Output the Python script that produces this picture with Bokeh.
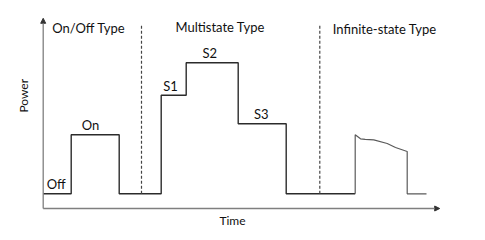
from bokeh.plotting import figure
from bokeh.models import Range1d, Arrow, NormalHead
from bokeh.core.properties import value
from bokeh.embed import file_html
from bokeh.resources import INLINE

# Step profile (time, power); off level = 0
step_time = [0, 28, 28, 76, 76, 118, 118, 143, 143, 195, 195, 243, 243, 312]
step_power = [0, 0, 59, 59, 0, 0, 98.6, 98.6, 131, 131, 70, 70, 0, 0]

# Infinite-state (continuously varying) segment
inf_time = [312, 312, 317.3, 322, 330.6, 344, 352.3, 364, 364, 383.3]
inf_power = [0, 59, 55, 54.5, 54, 50.3, 46.3, 42.3, 0, 0]

# Region separators (time)
sep_time = [98.3, 276.6]
sep_top = 168

# Region titles
region_titles = ["On/Off Type", "Multistate Type", "Infinite-state Type"]
region_title_x = [9, 132.3, 289.6]

# State labels
state_labels = ["Off", "On", "S1", "S2", "S3"]
state_time = [13, 47.3, 127.3, 166.6, 218]
state_power = [0, 59, 98.6, 131, 70]

FONT = "Lato"
p = figure(width=477, height=232, output_backend="svg", toolbar_location=None,
           x_range=Range1d(-42.7, 434.3), y_range=Range1d(-38.7, 193.3),
           min_border=0)
p.axis.visible = False
p.grid.visible = False
p.outline_line_color = None
p.background_fill_color = "white"

# axes with arrows
axis_y = -14.7
p.add_layout(Arrow(x_start=0, y_start=axis_y, x_end=0, y_end=175.5,
                   line_color="#7f7f7f", line_width=1.3,
                   end=NormalHead(size=5, fill_color="#333333", line_color="#333333")))
p.add_layout(Arrow(x_start=0, y_start=axis_y, x_end=396.5, y_end=axis_y,
                   line_color="#7f7f7f", line_width=1.3,
                   end=NormalHead(size=5, fill_color="#333333", line_color="#333333")))

p.line(step_time, step_power, line_color="#2b2b2b", line_width=1.4)
p.line(inf_time, inf_power, line_color="#5a5a5a", line_width=1.2)

for t in sep_time:
    p.line([t, t], [0, sep_top], line_color="#444444", line_width=1.2, line_dash="3 2")

p.text(region_title_x, [165.6, 167, 164.6], text=region_titles,
       text_font=value(FONT), text_font_size="13px", text_color="#111111",
       text_baseline="middle", text_align="left")

p.text(state_time, [v + 9.5 for v in state_power], text=state_labels,
       text_font=value(FONT), text_font_size="13px", text_color="#111111",
       text_baseline="middle", text_align="center")

p.text([-19.4], [98], text=["Power"], angle=1.5708,
       text_font=value(FONT), text_font_size="12px", text_color="#111111",
       text_baseline="middle", text_align="center")
p.text([189.3], [-26.7], text=["Time"],
       text_font=value(FONT), text_font_size="12px", text_color="#111111",
       text_baseline="middle", text_align="center")

open("out.html", "w").write(file_html(p, INLINE))
